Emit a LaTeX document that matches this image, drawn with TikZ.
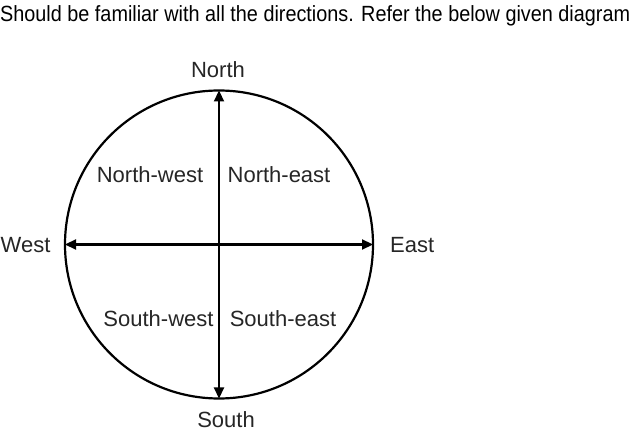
\documentclass[tikz,border=0pt]{standalone}
\usepackage{fontspec}
\usepackage{graphicx}
\setmainfont{Liberation Sans}
\usetikzlibrary{arrows.meta}
\begin{document}
\begin{tikzpicture}[x=1pt,y=-1pt,
  lbl/.style={inner sep=0pt,anchor=base,font=\fontsize{22}{24}\selectfont,text=black!85},
  arr/.style={line width=2.2pt,{Triangle[length=11pt,width=10pt]}-{Triangle[length=11pt,width=10pt]}},
  ring/.style={line width=2.2pt}]
\useasboundingbox (0,0) rectangle (632,443);
\fill[white] (0,0) rectangle (632,443);
\node[inner sep=0pt,anchor=base west,font=\fontsize{22}{24}\selectfont] (hdr) at (0,22) {\resizebox{630pt}{\height}{Should be familiar with all the directions. Refer the below given diagram}};
\coordinate (c) at (219,244.5);
\draw[ring] (c) circle[radius=154];
\coordinate (n) at (219,90.5);
\coordinate (s) at (219,398.5);
\coordinate (w) at (65,244.5);
\coordinate (e) at (373,244.5);
\draw[arr] (s) -- (n);
\draw[arr] (w) -- (e);
\node[lbl] (north) at (218,78) {North};
\node[lbl] (south) at (226,428) {South};
\node[lbl,anchor=base west] (west) at (0.5,253) {West};
\node[lbl,anchor=base west] (east) at (390,253) {East};
\node[lbl] (nw) at (150,183) {North-west};
\node[lbl] (ne) at (279,183) {North-east};
\node[lbl] (sw) at (158.5,327) {South-west};
\node[lbl] (se) at (283,327) {South-east};
\end{tikzpicture}
\end{document}
